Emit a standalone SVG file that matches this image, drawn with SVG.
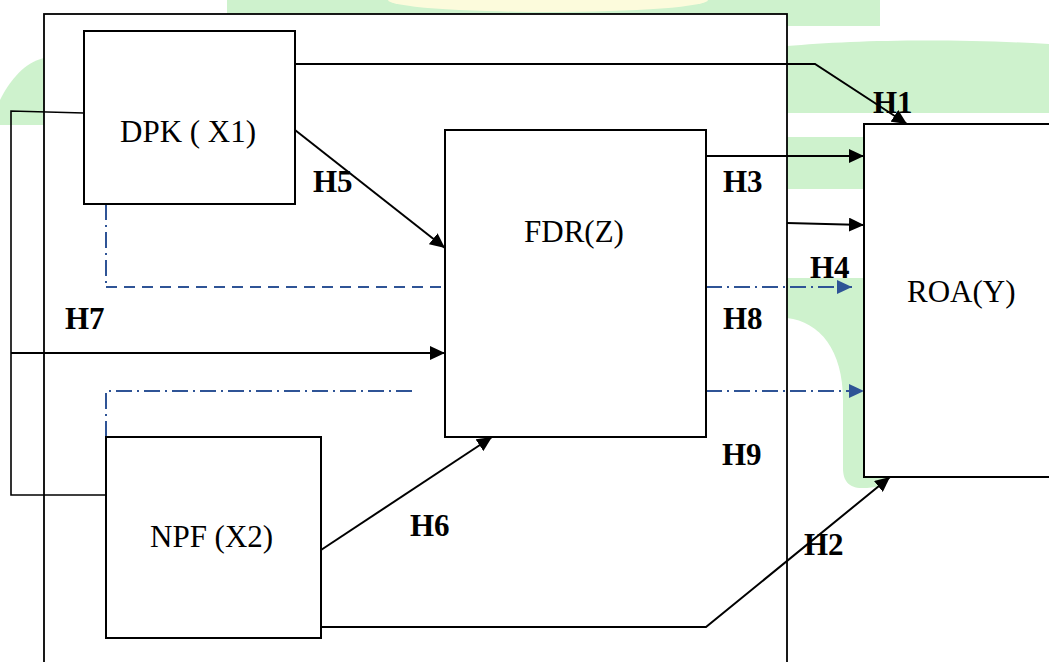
<svg xmlns="http://www.w3.org/2000/svg" width="1049" height="662" viewBox="0 0 1049 662">
<style>
.box{fill:#fff;stroke:#000;stroke-width:2}
.frame{fill:#fff;stroke:#000;stroke-width:1.8}
.ln{fill:none;stroke:#000;stroke-width:2}
.thin{fill:none;stroke:#000;stroke-width:1.6}
.bl{fill:none;stroke:#2f5496;stroke-width:2}
.dash{stroke-dasharray:11 7}
.dd{stroke-dasharray:16 5 2 5}
.node{font-family:"Liberation Serif","Times New Roman",serif;font-size:31px;fill:#000}
.lab{font-family:"Liberation Serif","Times New Roman",serif;font-size:31px;font-weight:bold;fill:#000}
.wm{fill:#cef2cd}
</style>
<defs>
<marker id="ah" markerUnits="userSpaceOnUse" markerWidth="15" markerHeight="14" refX="15" refY="7" orient="auto">
<path d="M0,0 L15,7 L0,14 z" fill="#000"/>
</marker>
<marker id="ahb" markerUnits="userSpaceOnUse" markerWidth="15" markerHeight="14" refX="15" refY="7" orient="auto">
<path d="M0,0 L15,7 L0,14 z" fill="#2f5496"/>
</marker>
</defs>
<g id="watermark">
<rect class="wm" x="227" y="0" width="653" height="26"/>
<ellipse cx="548" cy="0" rx="160" ry="12" fill="#fcfbdc"/>
<path class="wm" d="M787,46 C850,40 950,38 1049,44 L1049,113 L787,113 z"/>
<rect class="wm" x="787" y="137" width="77" height="52"/>
<path class="wm" d="M787,278 L864,278 L864,478 L888,478 C884,486 876,488 862,488 C848,488 843,480 843,468 L843,400 C843,350 820,322 787,318 z"/>
<path class="wm" d="M0,100 C10,80 25,62 44,58 L44,125 L0,125 z"/>
</g>
<rect id="frame" class="frame" x="44" y="14" width="743" height="700"/>
<g id="connectors">
<path class="ln" d="M295,64 L815,64 L907,124" marker-end="url(#ah)"/>
<path class="thin" d="M84,113 L11,111 L11,495 L106,495"/>
<path class="ln" d="M11,353 L445,353" marker-end="url(#ah)"/>
<path class="ln" d="M295,130 L445,248" marker-end="url(#ah)"/>
<path class="ln" d="M321,550 L492,437" marker-end="url(#ah)"/>
<path class="ln" d="M321,627 L706,627 L890,477" marker-end="url(#ah)"/>
<path class="ln" d="M706,156 L864,156" marker-end="url(#ah)"/>
<path class="ln" d="M787,223 L864,225" marker-end="url(#ah)"/>
<path class="bl dd" d="M106,204 L106,287"/>
<path class="bl dash" d="M106,287 L445,287"/>
<path class="bl dd" d="M706,287 L852,287" marker-end="url(#ahb)"/>
<path class="bl dd" d="M106,437 L106,391 L415,391"/>
<path class="bl dd" d="M706,391 L864,391" marker-end="url(#ahb)"/>
</g>
<g id="dpk">
<rect class="box" x="84" y="31" width="211" height="173"/>
<text class="node" x="120" y="142">DPK ( X1)</text>
</g>
<g id="fdr">
<rect class="box" x="445" y="130" width="261" height="307"/>
<text class="node" x="524" y="242">FDR(Z)</text>
</g>
<g id="roa">
<rect class="box" x="864" y="124" width="200" height="353"/>
<text class="node" x="907" y="302">ROA(Y)</text>
</g>
<g id="npf">
<rect class="box" x="106" y="437" width="215" height="201"/>
<text class="node" x="150" y="547">NPF (X2)</text>
</g>
<g id="labels">
<text class="lab" x="873" y="113">H1</text>
<text class="lab" x="804" y="555">H2</text>
<text class="lab" x="723" y="192">H3</text>
<text class="lab" x="810" y="278">H4</text>
<text class="lab" x="313" y="192">H5</text>
<text class="lab" x="410" y="536">H6</text>
<text class="lab" x="65" y="329">H7</text>
<text class="lab" x="723" y="329">H8</text>
<text class="lab" x="722" y="465">H9</text>
</g>
</svg>
